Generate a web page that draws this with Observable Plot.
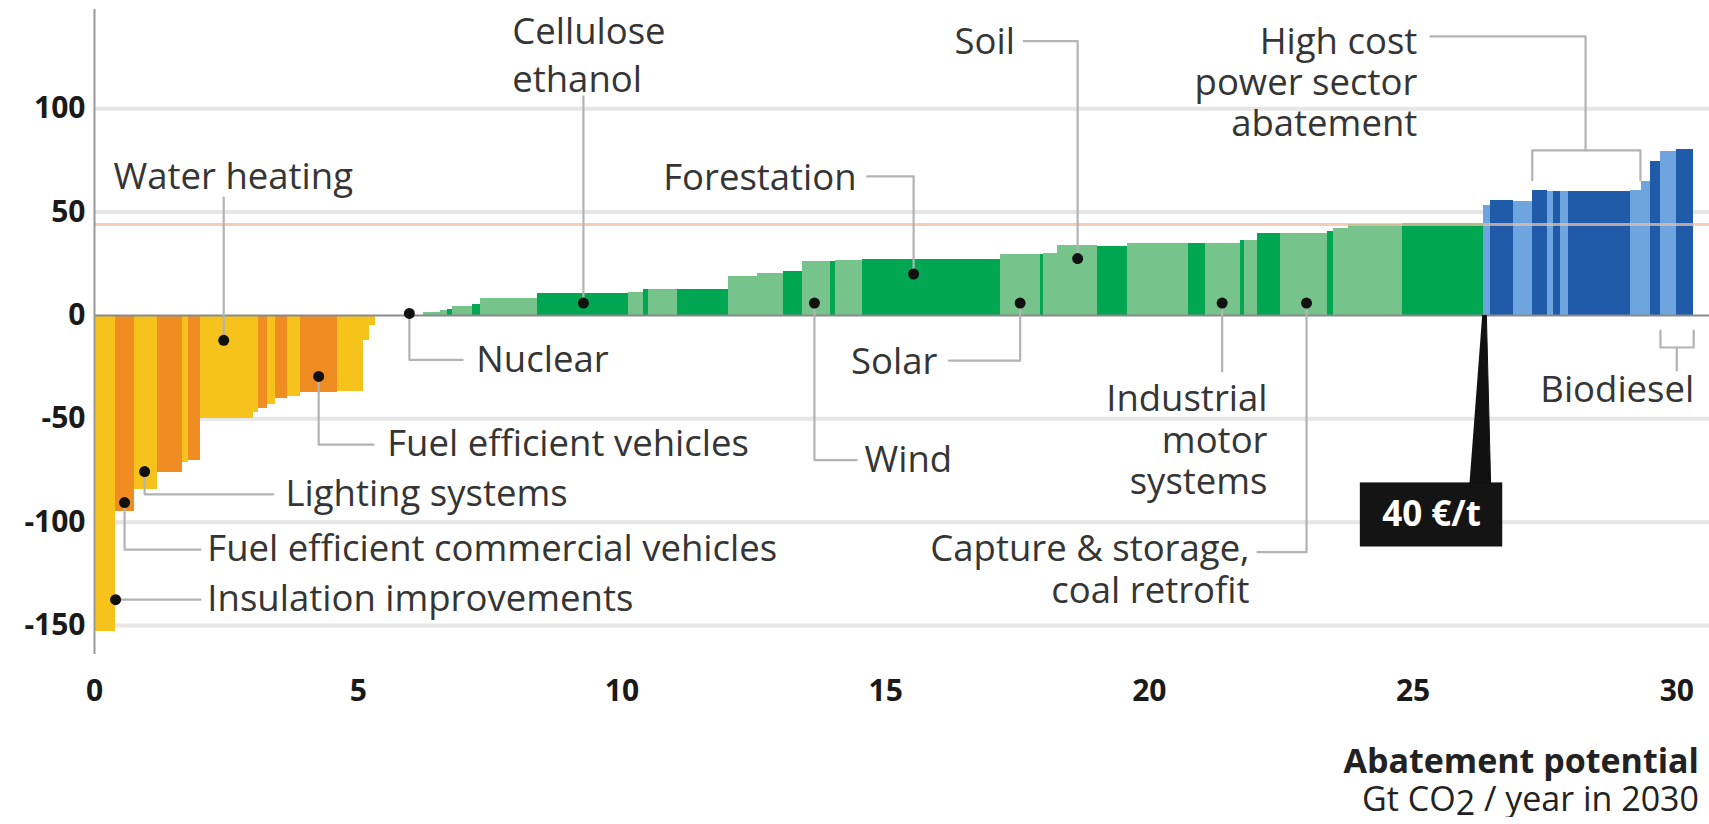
<!DOCTYPE html>
<html><head><meta charset="utf-8">
<script src="https://cdn.jsdelivr.net/npm/d3@7"></script>
<script src="https://cdn.jsdelivr.net/npm/@observablehq/plot@0.6"></script>
<style>
body{margin:0;background:#fff;font-family:"Open Sans",sans-serif;}
svg{display:block}
#cap{width:1709px;box-sizing:border-box;padding-right:10px;text-align:right;margin-top:29px;font-size:34px;line-height:38px;color:#222}
</style></head><body><div id="chart"></div>
<div id="cap"><b>Abatement potential</b><br>Gt CO<span style="position:relative;top:4px">2</span> / year in 2030</div>
<script>
// ---- Bars of the cost curve (abatement potential in Gt CO2, cost in €/t) ----
const barStart = [0,0.40,0.76,1.19,1.67,1.78,2.01,3.01,3.10,3.28,3.43,3.65,3.91,4.61,5.10,5.22,
  6.24,6.56,6.69,6.79,7.17,7.32,8.40,10.12,10.41,10.50,11.05,12.02,12.57,13.06,13.42,13.95,14.04,14.57,17.18,17.93,18.00,18.26,19.01,19.58,20.74,21.06,21.72,21.80,22.05,22.48,23.37,23.49,23.77,24.80,
  26.33,26.46,26.90,27.26,27.54,27.67,27.79,27.95,29.12,29.34,29.50,29.69,30.00];
const barEnd = [0.40,0.76,1.19,1.67,1.78,2.01,3.01,3.10,3.28,3.43,3.65,3.91,4.61,5.10,5.22,5.33,
  6.56,6.69,6.79,7.17,7.32,8.40,10.12,10.41,10.50,11.05,12.02,12.57,13.06,13.42,13.95,14.04,14.57,17.18,17.93,18.00,18.26,19.01,19.58,20.74,21.06,21.72,21.80,22.05,22.48,23.37,23.49,23.77,24.80,26.33,
  26.46,26.90,27.26,27.54,27.67,27.79,27.95,29.12,29.34,29.50,29.69,30.00,30.32];
const barCost = [-153,-95,-84,-76,-71,-70,-50,-47,-45,-43,-40,-39,-37.5,-37,-12,-5,
  1.5,2.5,3,4.5,5.5,8.2,10.7,11.2,12.5,12.5,12.8,19,20.5,21.5,26,26,26.5,27,29.5,29.5,30,33.7,33.4,34.9,35,35,36.5,36.5,39.5,39.7,40.5,42,44,44.5,
  53,55.5,55,60.5,60,60,60,60,60.5,65,74.5,79.5,80.5];
const barGroup = ["Y","O","Y","O","Y","O","Y","Y","O","Y","O","Y","O","Y","Y","Y",
  "L","L","D","L","D","L","D","L","D","L","D","L","L","D","L","D","L","D","L","D","L","L","D","L","D","L","D","L","D","L","D","L","L","D",
  "BL","BD","BL","BD","BL","BD","BL","BD","BL","BL","BD","BL","BD"];
const groupKeys = ["Y","O","L","D","BL","BD"];

// ---- Axis ticks ----
const xTicks = [0,5,10,15,20,25,30];
const yTicks = [-150,-100,-50,0,50,100];
const priceLine = 44;   // the 40 €/t line as drawn

// ---- Callouts: marked measures ----
const calloutX = [0.40,0.57,0.95,2.45,4.25,5.97,9.27,13.65,15.53,17.55,18.64,21.38,22.98];
const calloutY = [-137.5,-90.5,-75.5,-12,-29.5,1,6,6,20,6,27.5,6,6];

// label text, anchor position (data units)
const labelStart = [
  {t:"Insulation improvements", x:2.14, y:-137.5},
  {t:"Fuel efficient commercial vehicles", x:2.14, y:-113.3},
  {t:"Lighting systems", x:3.62, y:-86.5},
  {t:"Water heating", x:0.36, y:66.8},
  {t:"Fuel efficient vehicles", x:5.55, y:-62.5},
  {t:"Nuclear", x:7.24, y:-21.8},
  {t:"Wind", x:14.6, y:-70.2}
];
const labelStartMulti = [{t:"Cellulose\nethanol", x:7.92, y:127}];
const labelEnd = [
  {t:"Forestation", x:14.45, y:67.3},
  {t:"Soil", x:17.45, y:132.7},
  {t:"Solar", x:15.98, y:-21.8},
  {t:"High cost\npower sector\nabatement", x:25.08, y:113},
  {t:"Industrial\nmotor\nsystems", x:22.24, y:-60},
  {t:"Capture & storage,\ncoal retrofit", x:21.9, y:-122.5},
  {t:"Biodiesel", x:30.33, y:-35.4}
];

// leader lines (polylines in data units)
const leaders = [
  [[0.40,-137.5],[2.01,-137.5]],
  [[0.57,-90.5],[0.57,-113.3],[2.01,-113.3]],
  [[0.95,-75.5],[0.95,-86.5],[3.39,-86.5]],
  [[2.45,-12],[2.45,57]],
  [[4.25,-29.5],[4.25,-62.5],[5.29,-62.5]],
  [[5.97,1],[5.97,-21.5],[6.98,-21.5]],
  [[9.27,6],[9.27,106]],
  [[13.65,6],[13.65,-70],[14.45,-70]],
  [[15.53,20],[15.53,67.3],[14.65,67.3]],
  [[17.55,6],[17.55,-21.8],[16.2,-21.8]],
  [[18.64,27.5],[18.64,132.7],[17.62,132.7]],
  [[21.38,6],[21.38,-27]],
  [[22.98,6],[22.98,-114.5],[22.05,-114.5]],
  // high cost power sector bracket + stem
  [[27.26,65.4],[27.26,79.9],[29.31,79.9],[29.31,65.4]],
  [[28.27,79.9],[28.27,135],[25.33,135]],
  // biodiesel bracket + stem
  [[29.69,-7.3],[29.69,-15.5],[30.32,-15.5],[30.32,-7.3]],
  [[30.0,-15.5],[30.0,-26.6]]
];

// 40 €/t marker
const markerText = "40 €/t";
const markerBox = {x1:24.0, x2:26.7, y1:-81, y2:-112, tx:25.35, ty:-96.4};
const markerWedge = [[26.31,0],[26.39,0],[26.47,-81],[26.07,-81]];

// ---- build tables ----
const bars = barStart.map((s,i)=>({x0:s, x1:barEnd[i], cost:barCost[i], g:barGroup[i]}));
const dots = calloutX.map((x,i)=>({x, y:calloutY[i]}));
const leaderPts = leaders.flatMap((pl,i)=>pl.map(([x,y])=>({id:i,x,y})));
const wedgePts = markerWedge.map(([x,y])=>({x,y}));

const LABEL = 36.5;
const chart = Plot.plot({
  width: 1709, height: 712,
  marginLeft: 94, marginRight: 0, marginTop: 9, marginBottom: 58,
  style: {fontFamily: "'Open Sans', sans-serif", background: "white", color: "#222"},
  x: {domain: [0, 30.62]},
  y: {domain: [-164, 148]},
  color: {domain: groupKeys, range: ["#f6c31c","#ef8c22","#76c38c","#00a651","#6ea5df","#1f5ba8"]},
  marks: [
    Plot.ruleY(yTicks.filter(d=>d!==0), {stroke:"#e6e6e6", strokeWidth:4}),
    Plot.rect(bars, {x1:"x0", x2:"x1", y1:0, y2:"cost", fill:"g", shapeRendering:"crispEdges"}),
    Plot.ruleY([priceLine], {stroke:"#f0bea2", strokeWidth:3, strokeOpacity:0.75}),
    Plot.ruleY([0], {stroke:"#8a8a8a", strokeWidth:2}),
    Plot.ruleX([0], {stroke:"#9a9a9a", strokeWidth:2}),
    Plot.line(leaderPts, {x:"x", y:"y", z:"id", stroke:"#b3b3b3", strokeWidth:2.2, curve:"linear"}),
    Plot.dot(dots, {x:"x", y:"y", r:5.5, fill:"#111"}),
    Plot.line(wedgePts, {x:"x", y:"y", fill:"#111", stroke:"#111", strokeWidth:1}),
    Plot.rect([markerBox], {x1:"x1", x2:"x2", y1:"y1", y2:"y2", fill:"#141414"}),
    Plot.text([markerBox], {x:"tx", y:"ty", text:()=>markerText, fill:"white", fontWeight:"bold", fontSize:35}),
    Plot.text(labelStart, {x:"x", y:"y", text:"t", textAnchor:"start", fontSize:LABEL, fill:"#353535"}),
    Plot.text(labelStartMulti, {x:"x", y:"y", text:"t", textAnchor:"start", fontSize:LABEL, fill:"#353535", lineHeight:1.29}),
    Plot.text(labelEnd, {x:"x", y:"y", text:"t", textAnchor:"end", fontSize:LABEL, fill:"#353535", lineHeight:1.13}),
    Plot.axisY({ticks: yTicks, tickSize: 0, tickPadding: 9, fontSize: 30, fontWeight: "bold", tickFormat: d => String(d), label: null, fill:"#1a1a1a"}),
    Plot.axisX({ticks: xTicks, tickSize: 0, tickPadding: 25, fontSize: 30, fontWeight: "bold", tickFormat: d => String(d), label: null, fill:"#1a1a1a"})
  ]
});
document.getElementById("chart").appendChild(chart);
</script></body></html>
